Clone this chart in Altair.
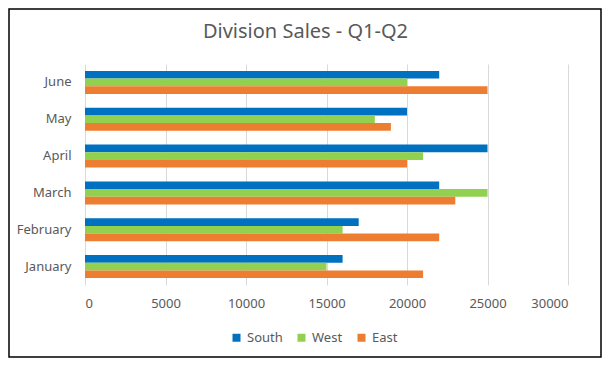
import altair as alt
import pandas as pd

months = ["January", "February", "March", "April", "May", "June"]
series = ["South", "West", "East"]
south = [16000, 17000, 22000, 25000, 20000, 22000]
west = [15000, 16000, 25000, 21000, 18000, 20000]
east = [21000, 22000, 23000, 20000, 19000, 25000]
colors = ["#0070C0", "#92D050", "#ED7D31"]
x_ticks = [0, 5000, 10000, 15000, 20000, 25000, 30000]

rows = []
for i, m in enumerate(months):
    for s, vals in zip(series, [south, west, east]):
        rows.append({"Month": m, "Series": s, "Sales": vals[i]})
df = pd.DataFrame(rows)

FONT = "Noto Sans"
GREY = "#595959"

bars = alt.Chart(df).mark_bar().encode(
    y=alt.Y("Month:N", sort=months[::-1],
            scale=alt.Scale(paddingInner=0.375, paddingOuter=0.1875),
            axis=alt.Axis(title=None, ticks=False, domain=False, labelPadding=14,
                          labelFontSize=13, labelColor=GREY, labelFont=FONT, grid=False)),
    yOffset=alt.YOffset("Series:N", sort=series, scale=alt.Scale(paddingInner=0, paddingOuter=0)),
    x=alt.X("Sales:Q", scale=alt.Scale(domain=[0, 30000]),
            axis=alt.Axis(title=None, values=x_ticks, ticks=False, domain=False,
                          labelPadding=12, labelFontSize=13, labelColor=GREY, labelFont=FONT,
                          grid=True, gridColor="#d9d9d9", gridWidth=1, format="d")),
    color=alt.Color("Series:N", sort=series,
                    scale=alt.Scale(domain=series, range=colors),
                    legend=alt.Legend(title=None, orient="none", direction="horizontal",
                                      legendX=145, legendY=267, symbolType="square",
                                      symbolSize=64, symbolStrokeWidth=0,
                                      labelFontSize=13, labelColor=GREY, labelFont=FONT,
                                      columnPadding=12, labelOffset=4)),
)

border = alt.Chart(pd.DataFrame({"a": [0]})).mark_rect(
    fillOpacity=0, stroke="#000000", strokeWidth=1.5
).encode(
    x=alt.value(-76), x2=alt.value(516), y=alt.value(-55), y2=alt.value(293)
)

chart = alt.layer(bars, border).properties(
    width=483, height=221,
    autosize=alt.AutoSizeParams(type="none"),
    padding={"left": 77, "top": 56, "right": 34, "bottom": 73},
    title=alt.Title("Division Sales - Q1-Q2", fontSize=20, font=FONT, color=GREY,
                    fontWeight="normal", anchor="middle", offset=-34, dx=-21),
).configure_view(stroke=None)

chart.save("out.html", embed_options={"renderer": "svg", "actions": False})
